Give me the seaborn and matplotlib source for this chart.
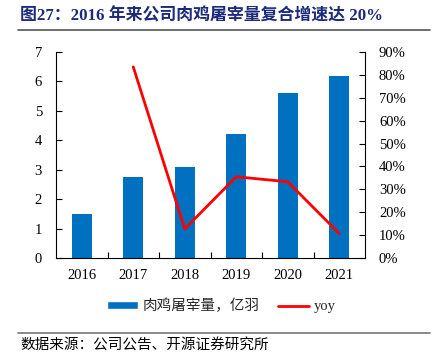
import numpy as np
import pandas as pd
import matplotlib
matplotlib.use("Agg")
import matplotlib.pyplot as plt
import seaborn as sns
from matplotlib.lines import Line2D
from matplotlib.patches import Patch

years = ["2016", "2017", "2018", "2019", "2020", "2021"]
volume = [1.5, 2.75, 3.1, 4.2, 5.6, 6.2]
yoy = [np.nan, 0.835, 0.127, 0.355, 0.333, 0.107]
left_ticks = [0, 1, 2, 3, 4, 5, 6, 7]
right_ticks = [0, 0.1, 0.2, 0.3, 0.4, 0.5, 0.6, 0.7, 0.8, 0.9]

title = "图27：2016 年来公司肉鸡屠宰量复合增速达 20%"
source = "数据来源：公司公告、开源证券研究所"
bar_label = "肉鸡屠宰量，亿羽"
line_label = "yoy"

sns.set_theme(style="white")
plt.rcParams['font.family'] = ['Liberation Serif', 'Noto Sans CJK SC']

fig = plt.figure(figsize=(4.34, 3.6), dpi=100)
ax = fig.add_axes([56/434, 1-258/360, (365-56)/434, (258-52)/360])

df = pd.DataFrame({"year": years, "volume": volume, "yoy": yoy})
sns.barplot(data=df, x="year", y="volume", color="#0070C0", width=0.39,
            saturation=1, ax=ax, edgecolor="none")
ax.set_ylim(0, 7)
ax.set_yticks(left_ticks)
ax.set_xlim(-0.5, len(years)-0.5)
ax.set_xlabel("")
ax.set_ylabel("")

ax2 = ax.twinx()
dfl = df.dropna()
sns.lineplot(x=dfl.index.to_numpy(), y=dfl["yoy"].to_numpy(), color="#FF0000",
             linewidth=2, ax=ax2)
ax2.set_ylim(0, 0.9)
ax2.set_yticks(right_ticks)
ax2.set_yticklabels([f"{int(round(v*100))}%" for v in right_ticks])

for a in (ax, ax2):
    for s in a.spines.values():
        s.set_visible(False)
    a.grid(False)
ax.spines['left'].set_visible(True)
ax.spines['bottom'].set_visible(True)
ax2.spines['right'].set_visible(True)
for s in (ax.spines['left'], ax.spines['bottom'], ax2.spines['right']):
    s.set_color("black")
    s.set_linewidth(0.8)

ax.tick_params(axis='y', direction='in', length=4, width=0.8, colors='black',
               labelsize=10.5, left=True, pad=10)
ax2.tick_params(axis='y', direction='in', length=4, width=0.8, colors='black',
                labelsize=10.5, right=True, pad=10)
ax.set_xticks(range(len(years)))
ax.set_xticklabels(years)
ax.set_xticks(np.arange(0.5, len(years)-1, 1), minor=True)
ax.tick_params(axis='x', which='major', length=0, labelsize=10.5, pad=8, colors='black')
ax.tick_params(axis='x', which='minor', direction='in', length=4, width=0.8,
               bottom=True, color='black')

handles = [Patch(facecolor="#0070C0", label=bar_label),
           Line2D([0], [0], color="#FF0000", lw=2, label=line_label)]
fig.legend(handles=handles, loc='center', bbox_to_anchor=(0.51, 1-306/360),
           ncol=2, frameon=False, fontsize=10.5, handlelength=2.1,
           handleheight=0.5, columnspacing=1.3, handletextpad=0.3)

fig.text(20/434, 1-16/360, title, fontsize=12.2, fontweight='bold',
         color='#1C2A7A', va='center', ha='left')
fig.add_artist(Line2D([18/434, 430/434], [1-30/360, 1-30/360], color='#555555', lw=1.2))
fig.add_artist(Line2D([18/434, 430/434], [1-333/360, 1-333/360], color='#777777', lw=1.2))
fig.text(20/434, 1-346/360, source, fontsize=10.5, color='black', va='center', ha='left')

fig.savefig("out.png", dpi=100)
